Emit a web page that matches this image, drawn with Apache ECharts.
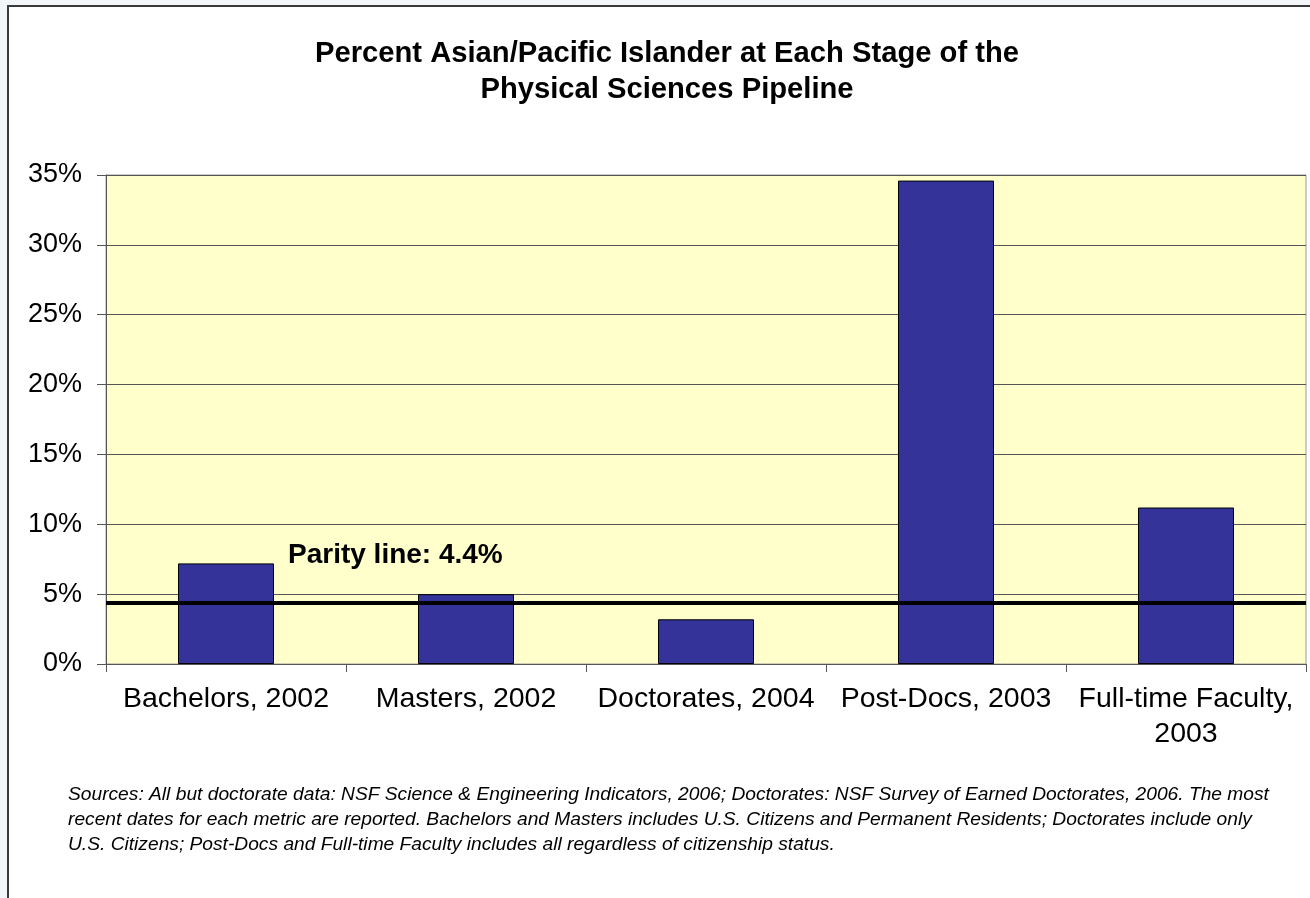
<!DOCTYPE html>
<html>
<head>
<meta charset="utf-8">
<script src="https://cdn.jsdelivr.net/npm/echarts@6/dist/echarts.min.js"></script>
<style>
  html, body { margin: 0; padding: 0; background: #f3f6f9; }
  #frame {
    position: absolute; left: 7px; top: 5px;
    width: 1320px; height: 910px;
    background: #ffffff;
    border-top: 2px solid #3a3a3a; border-left: 2px solid #3a3a3a;
  }
  #chart { position: absolute; left: 0; top: 0; width: 1310px; height: 898px; }
</style>
</head>
<body>
<div id="frame"></div>
<div id="chart"></div>
<script>
// Pipeline stages (x axis)
const stages = ['Bachelors, 2002', 'Masters, 2002', 'Doctorates, 2004', 'Post-Docs, 2003', 'Full-time Faculty,\n2003'];
// Percent Asian/Pacific Islander at each stage
const percentAPI = [7.2, 5.0, 3.2, 34.6, 11.2];
// Population parity reference
const parityValue = 4.4;
// Y axis range (percent)
const yMin = 0, yMax = 35, yStep = 5;

const titleLines = ['Percent Asian/Pacific Islander at Each Stage of the', 'Physical Sciences Pipeline'];
const sourceLines = [
  'Sources: All but doctorate data: NSF Science & Engineering Indicators, 2006; Doctorates: NSF Survey of Earned Doctorates, 2006. The most',
  'recent dates for each metric are reported. Bachelors and Masters includes U.S. Citizens and Permanent Residents; Doctorates include only',
  'U.S. Citizens; Post-Docs and Full-time Faculty includes all regardless of citizenship status.'
];

const FONT = '"Liberation Sans", Arial, sans-serif';
const chart = echarts.init(document.getElementById('chart'), null, { renderer: 'canvas' });

chart.setOption({
  backgroundColor: 'transparent',
  animation: false,
  textStyle: { fontFamily: FONT },
  title: [
    {
      text: titleLines.join('\n'),
      left: 662, top: 31,
      textAlign: 'center',
      textStyle: { fontFamily: FONT, fontWeight: 'bold', fontSize: 29.2, lineHeight: 36, color: '#000' }
    },
    {
      text: sourceLines.join('\n'),
      left: 63, top: 777,
      textStyle: { fontFamily: FONT, fontStyle: 'italic', fontWeight: 'normal', fontSize: 19.2, lineHeight: 25, color: '#000' }
    }
  ],
  grid: {
    left: 106, top: 175, right: 4, bottom: 234,
    show: true, backgroundColor: '#ffffcc', borderColor: '#9a9a9a', borderWidth: 1
  },
  xAxis: {
    type: 'category',
    data: stages,
    axisLine: { lineStyle: { color: '#555', width: 1 } },
    axisTick: { show: true, alignWithLabel: false, length: 8, lineStyle: { color: '#555' } },
    axisLabel: { fontFamily: FONT, fontSize: 28.5, color: '#000', margin: 18, lineHeight: 35, interval: 0 }
  },
  yAxis: {
    type: 'value',
    min: yMin, max: yMax, interval: yStep,
    axisLine: { show: true, lineStyle: { color: '#555', width: 1 } },
    axisTick: { show: true, length: 9, lineStyle: { color: '#555' } },
    axisLabel: { fontFamily: FONT, fontSize: 27, color: '#000', margin: 24, formatter: '{value}%' },
    splitLine: { show: true, lineStyle: { color: '#555', width: 1 } }
  },
  series: [{
    type: 'bar',
    data: percentAPI,
    barWidth: '40%',
    itemStyle: { color: '#333399', borderColor: '#000', borderWidth: 1 },
    markLine: {
      silent: true,
      symbol: 'none',
      data: [{ yAxis: parityValue }],
      lineStyle: { color: '#000', width: 4, type: 'solid' },
      label: {
        show: true,
        position: 'insideStartTop',
        formatter: 'Parity line: ' + parityValue + '%',
        fontFamily: FONT, fontWeight: 'bold', fontSize: 28, color: '#000',
        padding: [0, 0, 28, 177]
      }
    }
  }]
});
</script>
</body>
</html>
